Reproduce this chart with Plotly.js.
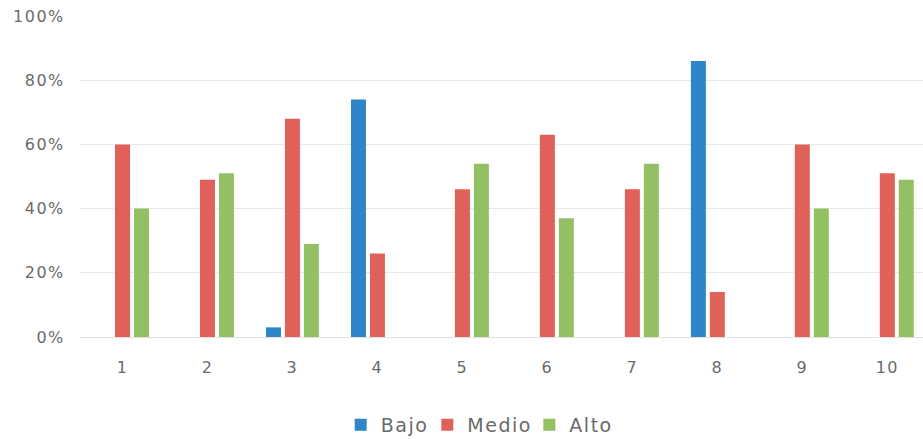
<!DOCTYPE html>
<html>
<head>
<meta charset="utf-8">
<script src="https://cdn.plot.ly/plotly-3.0.1.min.js"></script>
<style>
html,body{margin:0;padding:0;background:#fff;}
#chart{width:923px;height:439px;}
#chart svg text{letter-spacing:1.5px;}
</style>
</head>
<body>
<div id="chart"></div>
<script>
const categories = ['1','2','3','4','5','6','7','8','9','10'];
const bajo  = [0, 0, 0.03, 0.74, 0, 0, 0, 0.86, 0, 0];
const medio = [0.60, 0.49, 0.68, 0.26, 0.46, 0.63, 0.46, 0.14, 0.60, 0.51];
const alto  = [0.40, 0.51, 0.29, 0, 0.54, 0.37, 0.54, 0, 0.40, 0.49];
const seriesNames = ['Bajo', 'Medio', 'Alto'];
const colors = ['#2E86C9', '#E0605A', '#93C063'];

const data = [bajo, medio, alto].map((vals, i) => ({
  type: 'bar', x: categories, y: vals, name: seriesNames[i],
  marker: {color: colors[i]}, hoverinfo: 'x+y+name'
}));

const layout = {
  width: 923, height: 439,
  margin: {l: 80, r: 0, t: 15, b: 102, autoexpand: false},
  paper_bgcolor: '#fff', plot_bgcolor: '#fff',
  font: {family: 'DejaVu Sans, Open Sans, sans-serif', size: 16, color: '#6a6a6a'},
  barmode: 'group', bargap: 0.33, bargroupgap: 0.21,
  xaxis: {
    type: 'category', range: [-0.5, 9.42],
    showgrid: false, zeroline: false, showline: false,
    ticks: 'outside', ticklen: 16, tickcolor: 'rgba(0,0,0,0)',
    tickfont: {size: 16, color: '#6a6a6a'}
  },
  yaxis: {
    range: [0, 1.003], tickvals: [0, 0.2, 0.4, 0.6, 0.8, 1],
    tickformat: '.0%', showgrid: true, gridcolor: '#e8e8e8', gridwidth: 1,
    zeroline: true, zerolinecolor: '#e2e2e2', zerolinewidth: 1,
    ticks: 'outside', ticklen: 11, tickcolor: 'rgba(0,0,0,0)',
    tickfont: {size: 16, color: '#6a6a6a'}
  },
  showlegend: true,
  legend: {orientation: 'h', x: 0.47, xanchor: 'center',
           yref: 'container', y: 0.032, yanchor: 'middle',
           font: {size: 19, color: '#6a6a6a'}, tracegroupgap: 0}
};

Plotly.newPlot('chart', data, layout, {displayModeBar: false});
</script>
</body>
</html>
